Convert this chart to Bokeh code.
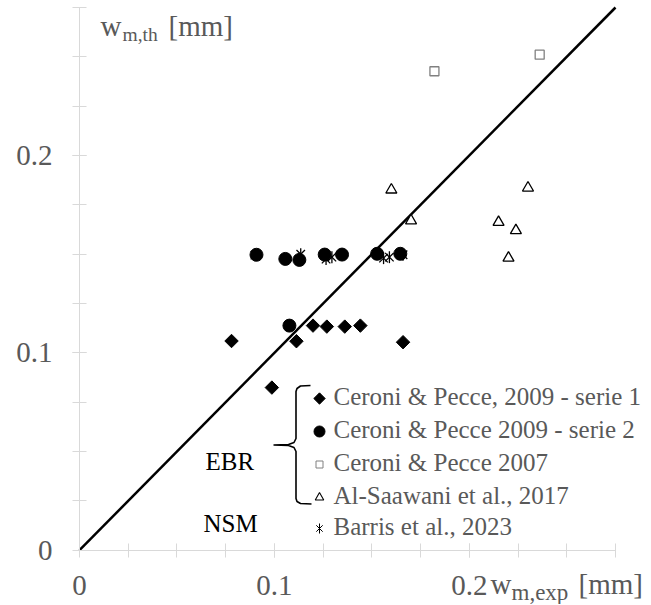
import math
from bokeh.plotting import figure
from bokeh.models import Range1d, FixedTicker, Label, LinearAxis
from bokeh.embed import file_html
from bokeh.resources import INLINE

# ---------------- data ----------------
serie1_x = [0.0780, 0.0987, 0.1113, 0.1198, 0.1269, 0.1361, 0.1441, 0.1660]
serie1_y = [0.1060, 0.0824, 0.1059, 0.1138, 0.1133, 0.1133, 0.1138, 0.1054]

serie2_x = [0.0908, 0.1056, 0.1077, 0.1128, 0.1258, 0.1347, 0.1527, 0.1646]
serie2_y = [0.1497, 0.1476, 0.1138, 0.1471, 0.1498, 0.1498, 0.1502, 0.1502]

cp2007_x = [0.1821, 0.2361]
cp2007_y = [0.2427, 0.2511]

alsaawani_x = [0.1600, 0.1701, 0.2150, 0.2201, 0.2239, 0.2301]
alsaawani_y = [0.1826, 0.1670, 0.1662, 0.1481, 0.1620, 0.1836]

barris_x = [0.0900, 0.1135, 0.1265, 0.1295, 0.1560, 0.1590, 0.1660]
barris_y = [0.1495, 0.1500, 0.1475, 0.1485, 0.1480, 0.1485, 0.1497]

identity_line = [0.0, 0.275]
axis_max = 0.275

major_ticks = [0.0, 0.1, 0.2]
major_labels = ["0", "0.1", "0.2"]
minor_ticks = [0.025, 0.05, 0.075, 0.1, 0.125, 0.15, 0.175, 0.2, 0.225, 0.25, 0.275]

legend_labels = ["Ceroni & Pecce, 2009 - serie 1",
                 "Ceroni & Pecce 2009 - serie 2",
                 "Ceroni & Pecce 2007",
                 "Al-Saawani et al., 2017",
                 "Barris et al., 2023"]

# ---------------- layout (pixels on the canvas) ----------------
W, H = 650, 604
X0_PX, X1_PX = 79.0, 615.0      # x = 0 and x = axis_max
Y0_PX, Y1_PX = 549.7, 7.0       # y = 0 and y = axis_max
sx = (X1_PX - X0_PX) / axis_max
sy = (Y0_PX - Y1_PX) / axis_max

FONT = "Liberation Serif"
GREY = "#595959"
AXC = "#d9d9d9"

p = figure(width=W, height=H, output_backend="svg", toolbar_location=None,
           x_range=Range1d(-X0_PX / sx, axis_max + (W - X1_PX) / sx),
           y_range=Range1d(-(H - Y0_PX) / sy, axis_max + Y1_PX / sy),
           x_axis_location=None, y_axis_location=None,
           min_border=0, min_border_left=0, min_border_right=0,
           min_border_top=0, min_border_bottom=0)
p.outline_line_color = None
p.grid.visible = False
p.background_fill_color = "white"
p.border_fill_color = "white"
# pixel ranges for layout items (legend, brace, titles)
p.extra_x_ranges = {"px": Range1d(0, W)}
p.extra_y_ranges = {"px": Range1d(H, 0)}

xaxis = LinearAxis(fixed_location=0, bounds=(0, axis_max))
yaxis = LinearAxis(fixed_location=0, bounds=(0, axis_max))
for ax in (xaxis, yaxis):
    ax.ticker = FixedTicker(ticks=major_ticks, minor_ticks=minor_ticks)
    ax.major_label_overrides = {t: l for t, l in zip(major_ticks, major_labels)}
    ax.axis_line_color = AXC
    ax.major_tick_line_color = AXC
    ax.minor_tick_line_color = AXC
    ax.major_tick_in = 7
    ax.major_tick_out = 7
    ax.minor_tick_in = 7
    ax.minor_tick_out = 7
    ax.major_label_text_font = FONT
    ax.major_label_text_font_size = "29px"
    ax.major_label_text_color = GREY
xaxis.major_label_standoff = 19
yaxis.major_label_standoff = 20
p.add_layout(xaxis, "below")
p.add_layout(yaxis, "left")

# identity line
p.line(identity_line, identity_line, line_width=2.5, color="black")

# data series
p.scatter(serie1_x, serie1_y, marker="square", size=9.5, angle=math.pi / 4,
          color="black")
p.scatter(barris_x, barris_y, marker="x", size=12, line_color="black", line_width=1.3)
p.scatter(barris_x, barris_y, marker="dash", size=12, angle=math.pi / 2,
          line_color="black", line_width=1.3)
p.scatter(serie2_x, serie2_y, marker="circle", size=13, color="black")
p.scatter(cp2007_x, cp2007_y, marker="square", size=9, fill_color="white",
          line_color="#808080", line_width=1.3)
p.scatter(alsaawani_x, alsaawani_y, marker="triangle", size=11, fill_color="white",
          line_color="black", line_width=1.3)

# ---------------- custom legend ----------------
rows_y = [398, 431, 464, 497, 528]
mx = 319
kw = dict(x_range_name="px", y_range_name="px")
p.scatter([mx], [rows_y[0]], marker="square", size=8, angle=math.pi / 4,
          color="black", **kw)
p.scatter([mx], [rows_y[1]], marker="circle", size=11, color="black", **kw)
p.scatter([mx], [rows_y[2]], marker="square", size=7, fill_color="white",
          line_color="#808080", line_width=1, **kw)
p.scatter([mx], [rows_y[3]], marker="triangle", size=8.5, fill_color="white",
          line_color="black", line_width=1.1, **kw)
p.scatter([mx], [rows_y[4]], marker="x", size=9, line_color="black", **kw)
p.scatter([mx], [rows_y[4]], marker="dash", size=10, angle=math.pi / 2,
          line_color="black", **kw)


def text(x, baseline, txt, fs, color=GREY):
    # Label's auto anchor puts the text lower than y; compensate
    p.add_layout(Label(x=x, y=baseline - 0.4 * fs, text=txt, text_font=FONT,
                       text_font_size=f"{fs}px", text_color=color,
                       text_baseline="alphabetic", **kw))


for lab, yy in zip(legend_labels, rows_y):
    text(333, yy + 8, lab, 25)

# brace
brace_x = [310, 300, 296.5, 295.5, 295.5, 293.5, 288, 273, 288, 293.5, 295.5,
           295.5, 296.5, 300, 311]
brace_y = [385, 385.5, 388, 391, 438, 442, 444, 444.5, 445, 447, 451,
           498, 501, 503, 503.5]
p.line(brace_x, brace_y, line_color="black", line_width=1.6, **kw)

text(205, 471, "EBR", 25, "black")
text(203, 533, "NSM", 25, "black")

# axis titles with subscripts
text(100, 37, "w", 29)
text(122, 42, "m,th", 19.5)
text(168, 37, "[mm]", 29)
text(490, 595, "w", 29)
text(511, 601, "m,exp", 23)
text(578, 595, "[mm]", 29)

open("out.html", "w").write(file_html(p, INLINE))
